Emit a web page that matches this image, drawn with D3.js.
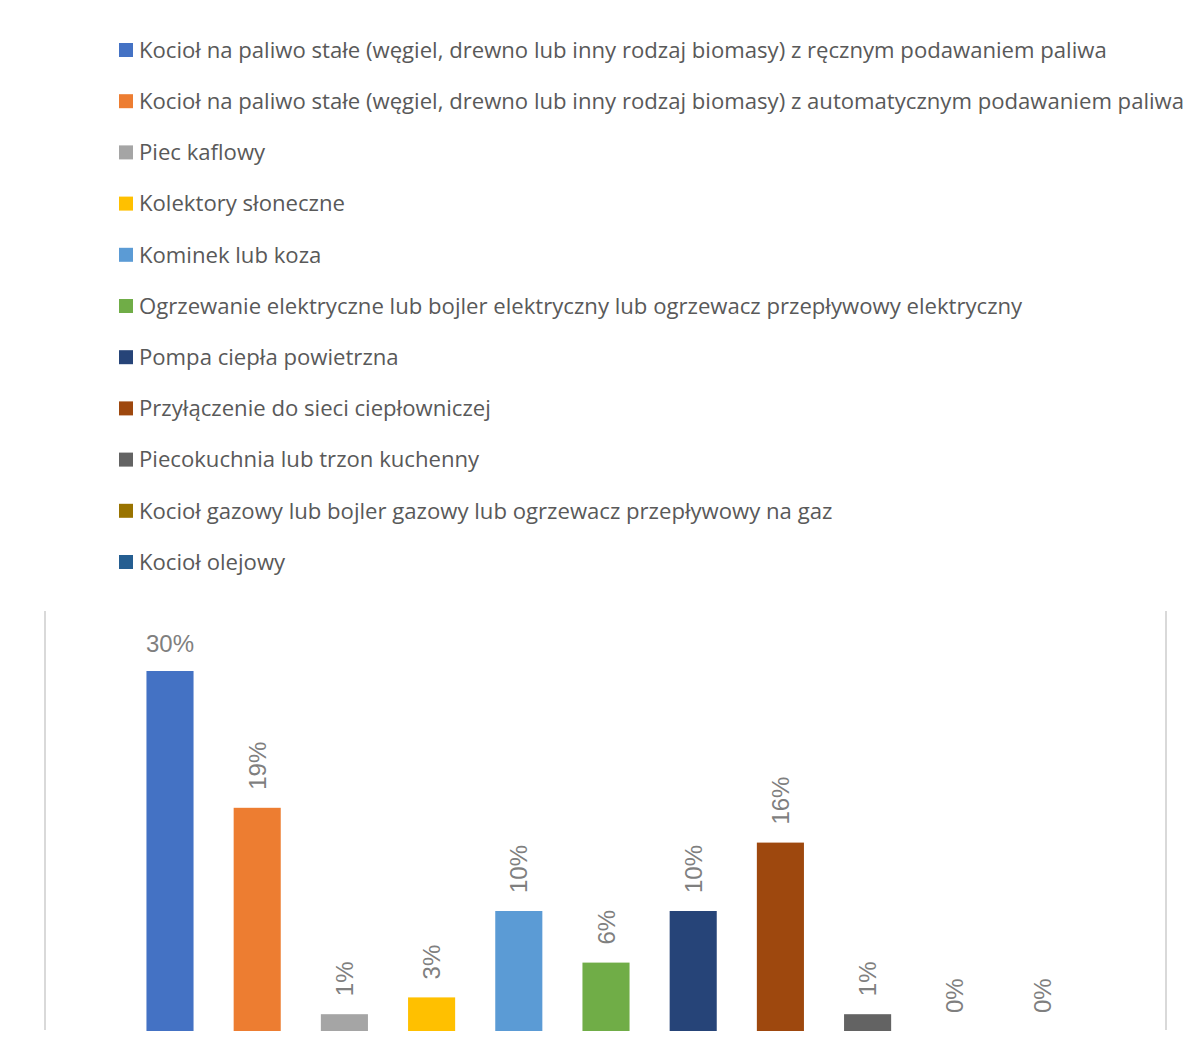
<!DOCTYPE html>
<html><head><meta charset="utf-8">
<script src="https://cdn.jsdelivr.net/npm/d3@7"></script>
<style>html,body{margin:0;padding:0;background:#fff}</style>
</head><body>
<svg id="c" width="1189" height="1056"></svg>
<script>
const categories = [
  "Kocioł na paliwo stałe (węgiel, drewno lub inny rodzaj biomasy) z ręcznym podawaniem paliwa",
  "Kocioł na paliwo stałe (węgiel, drewno lub inny rodzaj biomasy) z automatycznym podawaniem paliwa",
  "Piec kaflowy",
  "Kolektory słoneczne",
  "Kominek lub koza",
  "Ogrzewanie elektryczne lub bojler elektryczny lub ogrzewacz przepływowy elektryczny",
  "Pompa ciepła powietrzna",
  "Przyłączenie do sieci ciepłowniczej",
  "Piecokuchnia lub trzon kuchenny",
  "Kocioł gazowy lub bojler gazowy lub ogrzewacz przepływowy na gaz",
  "Kocioł olejowy"
];
const values = [0.30, 0.186, 0.014, 0.028, 0.10, 0.057, 0.10, 0.157, 0.014, 0.0, 0.0];
const colors = ["#4472C4","#ED7D31","#A5A5A5","#FFC000","#5B9BD5","#70AD47","#264478","#9E480E","#636363","#997300","#255E91"];

const svg = d3.select("#c");
const fmt = d3.format(".0%");

// Legend
const legend = svg.append("g");
const ly = d3.scaleLinear().domain([0, 10]).range([50, 562]);
categories.forEach((c, i) => {
  const g = legend.append("g").attr("transform", `translate(0,${ly(i)})`);
  g.append("rect").attr("x", 119).attr("y", -7).attr("width", 14).attr("height", 14).attr("fill", colors[i]);
  g.append("text").attr("x", 139).attr("y", 0).attr("dy", "0.35em")
    .attr("font-family", "'Open Sans', sans-serif").attr("font-size", 20)
    .attr("fill", "#595959").text(c);
});
const firstText = legend.select("text").node();
const w = firstText.getComputedTextLength();
const fs = 20 * 968 / w;
legend.selectAll("text").attr("font-size", fs);

// Chart
const x = d3.scaleBand().domain(categories).range([126.4, 1085.6]).paddingInner(0.46).paddingOuter(0.23);
const y = d3.scaleLinear().domain([0, 0.35]).range([1031, 611]);

svg.append("g").selectAll("line").data([45, 1166]).join("line")
  .attr("x1", d => d).attr("x2", d => d).attr("y1", 611).attr("y2", 1030)
  .attr("stroke", "#d9d9d9").attr("stroke-width", 2);

svg.append("g").selectAll("rect").data(values).join("rect")
  .attr("x", (d, i) => x(categories[i]))
  .attr("width", x.bandwidth())
  .attr("y", d => y(d))
  .attr("height", d => y(0) - y(d))
  .attr("fill", (d, i) => colors[i]);

const labels = svg.append("g");
values.forEach((v, i) => {
  const cx = x(categories[i]) + x.bandwidth() / 2;
  let t;
  if (i === 0) {
    t = labels.append("text").attr("x", cx).attr("y", y(v) - 19).attr("text-anchor", "middle");
  } else {
    t = labels.append("text").attr("transform", `translate(${cx},${y(v) - 18}) rotate(-90)`)
      .attr("dy", "0.36em").attr("text-anchor", "start");
  }
  t.attr("font-family", "'Liberation Sans', Arial, sans-serif")
   .attr("font-size", 24).attr("fill", "#7f7f7f").text(fmt(v));
});
</script>
</body></html>
